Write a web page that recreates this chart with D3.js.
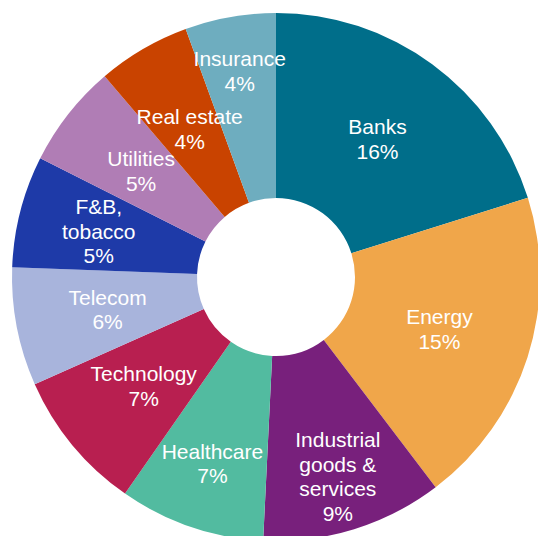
<!DOCTYPE html>
<html>
<head>
<meta charset="utf-8">
<script src="https://cdn.jsdelivr.net/npm/d3@7/dist/d3.min.js"></script>
<style>
  html, body { margin: 0; padding: 0; background: #ffffff; }
  svg { display: block; }
</style>
</head>
<body>
<svg id="chart" width="538" height="536"></svg>
<script>
// Sector weights of the portfolio, in per cent (labels show them rounded)
const sectors = [
  "Banks", "Energy", "Industrial goods & services", "Healthcare", "Technology",
  "Telecom", "F&B, tobacco", "Utilities", "Real estate", "Insurance"
];
const weights = [15.6, 15.1, 8.6, 6.9, 6.7, 5.6, 5.3, 4.9, 4.4, 4.3];
const sectorColors = [
  "#006e8a", "#f0a64a", "#78207c", "#52bba0", "#b81f50",
  "#a8b4dc", "#1e3aa8", "#b07db5", "#c94300", "#6eadbf"
];

const width = 538, height = 536;
const cx = 276, cy = 277;
const outerR = 264, innerR = 79;
const fontSize = 21, lineHeight = 24.5;

// Labels on crowded or narrow slices sit further out along the ring
const labelRadius = {
  "Industrial goods & services": 209,
  "Insurance": 209,
  "Healthcare": 197,
  "F&B, tobacco": 183
};
const defaultLabelRadius = (innerR + outerR) / 2;

const data = sectors.map((name, i) => ({ name, value: weights[i], color: sectorColors[i] }));

const pie = d3.pie()
  .sort(null)
  .value(d => d.value)
  .startAngle(0)
  .endAngle(2 * Math.PI);

const arc = d3.arc().innerRadius(innerR).outerRadius(outerR);

const svg = d3.select("#chart");
const g = svg.append("g").attr("transform", `translate(${cx},${cy})`);

const arcs = pie(data);

g.selectAll("path.slice")
  .data(arcs)
  .join("path")
  .attr("class", "slice")
  .attr("d", arc)
  .attr("fill", d => d.data.color);

// Greedy word wrap: keep each line within a fixed number of characters
function wrap(text, maxChars) {
  const words = text.split(" ");
  const lines = [];
  let cur = "";
  words.forEach(w => {
    const next = cur ? cur + " " + w : w;
    if (cur && next.length > maxChars) { lines.push(cur); cur = w; }
    else cur = next;
  });
  if (cur) lines.push(cur);
  return lines;
}

const fmt = v => Math.round(v) + "%";

const labels = g.selectAll("text.label")
  .data(arcs)
  .join("text")
  .attr("class", "label")
  .attr("text-anchor", "middle")
  .attr("fill", "#ffffff")
  .style("font-family", "'Liberation Sans', Arial, Helvetica, sans-serif")
  .style("font-size", fontSize + "px");

labels.each(function(d) {
  const lines = wrap(d.data.name, 11).concat([fmt(d.data.value)]);
  const mid = (d.startAngle + d.endAngle) / 2;
  const r = labelRadius[d.data.name] || defaultLabelRadius;
  const x = Math.sin(mid) * r;
  const y = -Math.cos(mid) * r;
  const capHalf = fontSize * 0.716 / 2;
  const top = y - (lines.length - 1) * lineHeight / 2 + capHalf;
  const t = d3.select(this);
  lines.forEach((line, i) => {
    t.append("tspan")
      .attr("x", x)
      .attr("y", top + i * lineHeight)
      .text(line);
  });
});
</script>
</body>
</html>
